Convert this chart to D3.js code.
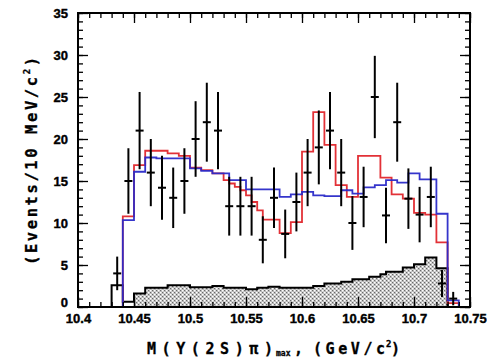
<!DOCTYPE html>
<html>
<head>
<meta charset="utf-8">
<script src="https://cdn.jsdelivr.net/npm/d3@7"></script>
<style>
html,body{margin:0;padding:0;background:#fff;}
svg{display:block;}
</style>
</head>
<body>
<svg id="chart" width="487" height="359"></svg>
<script>
// ---------- DATA ----------
// data points (10 MeV bins, centres)
const dataX = [10.435,10.445,10.455,10.465,10.475,10.485,10.495,10.505,10.515,10.525,10.535,10.545,10.555,10.565,10.575,10.585,10.595,10.605,10.615,10.625,10.635,10.645,10.655,10.665,10.675,10.685,10.695,10.705,10.715,10.725,10.735];
const dataY = [4,15,21,16,14.2,13,15,20,22,21,12,12,12,8,13,8.7,12.5,16,19,21,16,10,13.1,25,10.9,22,12.9,11,13.1,2.8,1];
const dataErr = [2,3.9,4.6,4,3.8,3.6,3.9,4.5,4.7,4.6,3.5,3.5,3.5,2.8,3.6,2.9,3.5,4,4.4,4.6,4,3.2,3.6,4.9,3.3,4.7,3.6,3.3,3.6,1.6,0.8];

// fit histograms (5 MeV bins, starting at 10.43)
const histStart = 10.43, histWidth = 0.005;
const redFit = [0,0,10.8,10.8,16.9,16.9,18.6,18.6,18.6,18.6,18.3,18.3,18.0,18.0,16.6,16.6,16.3,16.3,15.9,15.9,
  15.1,14.7,14.3,13.9,13.3,12.5,11.5,10.4,10.4,10.4,8.8,8.8,10.1,10.1,18.5,18.5,23.2,23.2,19.3,19.3,
  14.5,14.5,13.1,13.1,18.0,18.0,18.0,18.0,15.4,15.4,13.4,13.4,12.9,12.9,11.2,11.2,11.0,11.0,7.7,7.7,0.45,0.45];
const blueFit = [0,0,10.35,10.35,16.1,16.1,17.8,17.8,17.7,17.7,17.7,17.7,17.7,17.7,16.5,16.5,16.2,16.2,15.9,15.9,
  15.9,15.1,15.1,15.1,14.0,14.0,14.0,14.0,14.0,14.0,13.1,13.1,13.4,13.4,13.7,13.7,13.3,13.3,13.2,13.2,
  13.2,13.9,13.9,13.5,13.5,14.25,14.25,14.5,14.5,15.1,15.1,14.8,14.8,15.9,15.9,15.2,15.2,15.2,11.1,11.1,0.8,0.8];
const background = [2.6,2.6,0.63,0.63,1.6,1.6,2.3,2.3,2.3,2.3,2.6,2.6,2.6,2.6,2.35,2.35,2.35,2.35,2.5,2.5,
  2.3,2.3,2.3,2.3,2.1,2.1,2.3,2.3,2.4,2.4,2.3,2.3,2.3,2.3,2.3,2.3,2.5,2.5,2.8,2.8,
  2.8,3.0,3.0,3.3,3.3,3.3,3.6,3.6,3.9,4.2,4.2,4.2,4.7,4.7,5.1,5.1,5.9,5.9,4.6,4.6,0,0];
const bgFillFrom = 4; // first shaded bin

// axes
const xTicks = [10.4,10.45,10.5,10.55,10.6,10.65,10.7,10.75];
const xTickLabels = ["10.4","10.45","10.5","10.55","10.6","10.65","10.7","10.75"];
const yTicks = [0,5,10,15,20,25,30,35];
const yTickLabels = ["0","5","10","15","20","25","30","35"];

// ---------- DRAW ----------
const svg = d3.select("#chart");
const L = 78, R = 470, T = 13, B = 307;
const x = d3.scaleLinear().domain([10.4,10.75]).range([L,R]);
const y = d3.scaleLinear().domain([0,35]).range([B,T]);

const defs = svg.append("defs");
const pat = defs.append("pattern").attr("id","hatch").attr("width",4).attr("height",4)
  .attr("patternUnits","userSpaceOnUse");
pat.append("rect").attr("width",4).attr("height",4).attr("fill","#b8b8b8");
pat.append("rect").attr("x",0).attr("y",0).attr("width",1.5).attr("height",1.5).attr("fill","#ffffff");
pat.append("rect").attr("x",2).attr("y",2).attr("width",1.5).attr("height",1.5).attr("fill","#ffffff");
pat.append("rect").attr("x",2).attr("y",0).attr("width",1).attr("height",1).attr("fill","#6a6a6a");
pat.append("rect").attr("x",0).attr("y",2).attr("width",1).attr("height",1).attr("fill","#6a6a6a");

function stepPts(vals, from){
  const pts = [];
  const s = from || 0;
  pts.push([histStart + s*histWidth, 0]);
  for (let i = s; i < vals.length; i++){
    pts.push([histStart + i*histWidth, vals[i]]);
  }
  pts.push([histStart + vals.length*histWidth, vals[vals.length-1]]);
  pts.push([histStart + vals.length*histWidth, 0]);
  return pts;
}
const stepLine = d3.line().x(d=>x(d[0])).y(d=>y(d[1])).curve(d3.curveStepAfter);
const stepArea = d3.area().x(d=>x(d[0])).y0(y(0)).y1(d=>y(d[1])).curve(d3.curveStepAfter);

// background shaded
svg.append("path").attr("d", stepArea(stepPts(background, bgFillFrom).slice(0,-1)))
  .attr("fill","url(#hatch)").attr("stroke","none");
svg.append("path").attr("d", stepLine(stepPts(background)))
  .attr("fill","none").attr("stroke","#000").attr("stroke-width",2);

// fits
function fitPts(vals){
  const pts = [[10.42,0]];
  for (let i=0;i<vals.length;i++) pts.push([histStart+i*histWidth, vals[i]]);
  pts.push([histStart+vals.length*histWidth, 0]);
  return pts;
}
svg.append("path").attr("d", stepLine(fitPts(redFit)))
  .attr("fill","none").attr("stroke","#e0262c").attr("stroke-width",1.8).attr("stroke-opacity",0.95);
svg.append("path").attr("d", stepLine(fitPts(blueFit)))
  .attr("fill","none").attr("stroke","#2a2ac8").attr("stroke-width",1.8).attr("stroke-opacity",0.95);

// data points
const pg = svg.append("g").attr("stroke","#000").attr("stroke-width",2);
dataX.forEach((cx,i)=>{
  const v = dataY[i], e = dataErr[i];
  pg.append("line").attr("x1",x(cx)).attr("x2",x(cx))
    .attr("y1",y(Math.max(0,v-e))).attr("y2",y(v+e));
  pg.append("line").attr("x1",x(cx)-4).attr("x2",x(cx)+4).attr("y1",y(v)).attr("y2",y(v));
});

// axes: ticks inward on all four sides
const xMinor = d3.range(0,36).map(i=>10.4+i*0.01);
const yMinor = d3.range(0,36);
const fontTick = "bold 13px 'Liberation Sans', Arial, sans-serif";

const gxb = svg.append("g").attr("transform",`translate(0,${B})`)
  .call(d3.axisBottom(x).tickValues(xMinor).tickSize(-5).tickFormat(""));
const gxb2 = svg.append("g").attr("transform",`translate(0,${B})`)
  .call(d3.axisBottom(x).tickValues(xTicks).tickSize(-10).tickPadding(7)
    .tickFormat((d,i)=>xTickLabels[i]));
const gxt = svg.append("g").attr("transform",`translate(0,${T})`)
  .call(d3.axisTop(x).tickValues(xMinor).tickSize(-5).tickFormat(""));
const gxt2 = svg.append("g").attr("transform",`translate(0,${T})`)
  .call(d3.axisTop(x).tickValues(xTicks).tickSize(-10).tickFormat(""));
const gyl = svg.append("g").attr("transform",`translate(${L},0)`)
  .call(d3.axisLeft(y).tickValues(yMinor).tickSize(-5).tickFormat(""));
const gyl2 = svg.append("g").attr("transform",`translate(${L},0)`)
  .call(d3.axisLeft(y).tickValues(yTicks).tickSize(-10).tickPadding(10)
    .tickFormat((d,i)=>yTickLabels[i]));
const gyr = svg.append("g").attr("transform",`translate(${R},0)`)
  .call(d3.axisRight(y).tickValues(yMinor).tickSize(-5).tickFormat(""));
const gyr2 = svg.append("g").attr("transform",`translate(${R},0)`)
  .call(d3.axisRight(y).tickValues(yTicks).tickSize(-10).tickFormat(""));

svg.selectAll(".domain").remove();
svg.selectAll(".tick line").attr("stroke","#000").attr("stroke-width",1.3);
svg.selectAll(".tick text").style("font",fontTick).attr("fill","#000")
  .attr("stroke","#000").attr("stroke-width",0.4);
gyl2.selectAll(".tick text").attr("dy",(d,i)=> i===0 ? "-0.05em" : "0.35em");

// frame
svg.append("rect").attr("x",L).attr("y",T).attr("width",R-L).attr("height",B-T)
  .attr("fill","none").attr("stroke","#000").attr("stroke-width",2);

// titles
const fontTitle = "'DejaVu Sans Mono', 'Liberation Mono', monospace";
const xt = svg.append("g").attr("font-family",fontTitle).attr("font-weight","bold").attr("fill","#000")
  .attr("stroke","#000").attr("stroke-width",0.3);
xt.append("text").attr("x",147).attr("y",354).attr("font-size",15)
  .attr("textLength",126).attr("lengthAdjust","spacing").text("M(Υ(2S)π)");
xt.append("text").attr("x",276).attr("y",356).attr("font-size",8).text("max");
xt.append("text").attr("x",294).attr("y",354).attr("font-size",15).text(",");
xt.append("text").attr("x",313).attr("y",354).attr("font-size",15)
  .attr("textLength",72).attr("lengthAdjust","spacing").text("(GeV/c");
xt.append("text").attr("x",386).attr("y",347).attr("font-size",9).text("2");
xt.append("text").attr("x",391).attr("y",354).attr("font-size",15).text(")");

const yt = svg.append("text").attr("transform","translate(37,161) rotate(-90)")
  .attr("text-anchor","middle").attr("font-family",fontTitle).attr("font-weight","bold")
  .attr("font-size",15.5).attr("fill","#000").attr("stroke","#000").attr("stroke-width",0.3)
  .attr("textLength",208).attr("lengthAdjust","spacing");
yt.append("tspan").text("(Events/10 MeV/c");
yt.append("tspan").attr("font-size",9).attr("dy",-7).text("2");
yt.append("tspan").attr("dy",7).text(")");
</script>
</body>
</html>
